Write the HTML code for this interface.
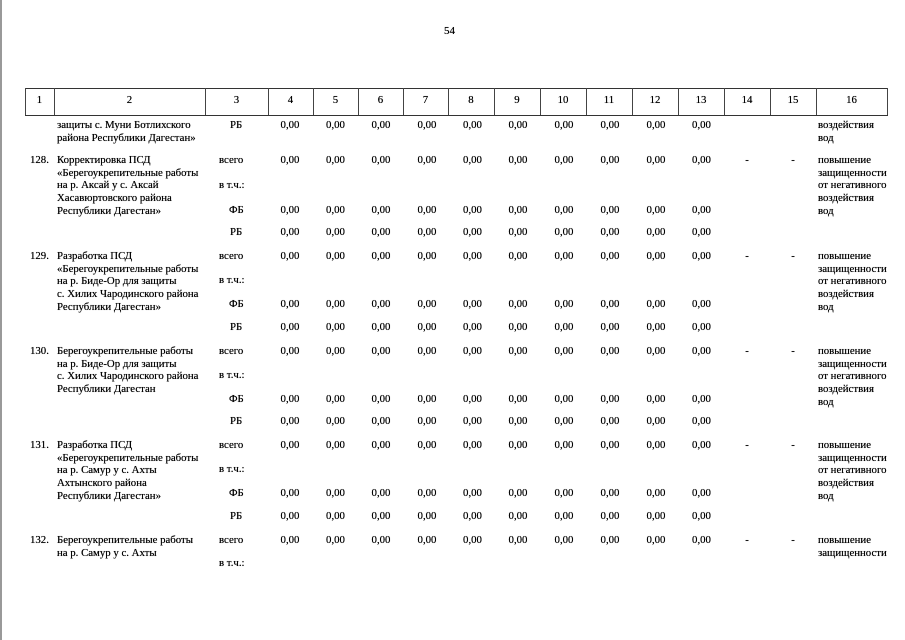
<!DOCTYPE html>
<html><head><meta charset="utf-8"><style>
body{margin:0;width:905px;height:640px;background:#fff;position:relative;overflow:hidden;font-family:"Liberation Serif",serif;font-size:10.8px;color:#000;text-shadow:0 0 0.4px #000}
.a{position:absolute;white-space:nowrap}
.t{position:absolute;line-height:12.7px;white-space:nowrap}
.v{position:absolute;left:267px;display:grid;grid-template-columns:46px 45px 46px 46px 45px 46px 46px 46px 46px 45px 46px 46px;text-align:center;line-height:13px}
.h{position:absolute;top:88px;height:26px;border-top:1.5px solid #333;border-bottom:1.5px solid #333;left:25px;width:863px}
.vl{position:absolute;top:88px;height:27px;width:1px;background:#444}
.hn{position:absolute;top:94px;text-align:center;font-size:10.8px}
</style></head><body>
<div class="a" style="left:444px;top:25px;font-size:11px">54</div>
<div class="h"></div>
<div class="vl" style="left:25px"></div><div class="vl" style="left:54px"></div><div class="vl" style="left:205px"></div><div class="vl" style="left:268px"></div><div class="vl" style="left:313px"></div><div class="vl" style="left:358px"></div><div class="vl" style="left:403px"></div><div class="vl" style="left:448px"></div><div class="vl" style="left:494px"></div><div class="vl" style="left:540px"></div><div class="vl" style="left:586px"></div><div class="vl" style="left:632px"></div><div class="vl" style="left:678px"></div><div class="vl" style="left:724px"></div><div class="vl" style="left:770px"></div><div class="vl" style="left:816px"></div><div class="vl" style="left:887px"></div>
<div class="hn" style="left:25px;width:29px">1</div><div class="hn" style="left:54px;width:151px">2</div><div class="hn" style="left:205px;width:63px">3</div><div class="hn" style="left:268px;width:45px">4</div><div class="hn" style="left:313px;width:45px">5</div><div class="hn" style="left:358px;width:45px">6</div><div class="hn" style="left:403px;width:45px">7</div><div class="hn" style="left:448px;width:46px">8</div><div class="hn" style="left:494px;width:46px">9</div><div class="hn" style="left:540px;width:46px">10</div><div class="hn" style="left:586px;width:46px">11</div><div class="hn" style="left:632px;width:46px">12</div><div class="hn" style="left:678px;width:46px">13</div><div class="hn" style="left:724px;width:46px">14</div><div class="hn" style="left:770px;width:46px">15</div><div class="hn" style="left:816px;width:71px">16</div>

<div class="t" style="left:57px;top:119px">защиты с. Муни Ботлихского<br>района Республики Дагестан»</div>
<div class="a" style="left:230px;top:119px">РБ</div>
<div class="v" style="top:119px"><span>0,00</span><span>0,00</span><span>0,00</span><span>0,00</span><span>0,00</span><span>0,00</span><span>0,00</span><span>0,00</span><span>0,00</span><span>0,00</span></div>
<div class="t" style="left:818px;top:119px">воздействия<br>вод</div>

<div class="a" style="left:30px;top:154px">128.</div>
<div class="t" style="left:57px;top:154px">Корректировка ПСД<br>«Берегоукрепительные работы<br>на р. Аксай у с. Аксай<br>Хасавюртовского района<br>Республики Дагестан»</div>
<div class="a" style="left:219px;top:154px">всего</div><div class="a" style="left:219px;top:179px">в т.ч.:</div>
<div class="a" style="left:229px;top:204px">ФБ</div><div class="a" style="left:230px;top:226px">РБ</div>
<div class="v" style="top:154px"><span>0,00</span><span>0,00</span><span>0,00</span><span>0,00</span><span>0,00</span><span>0,00</span><span>0,00</span><span>0,00</span><span>0,00</span><span>0,00</span><span>-</span><span>-</span></div>
<div class="v" style="top:204px"><span>0,00</span><span>0,00</span><span>0,00</span><span>0,00</span><span>0,00</span><span>0,00</span><span>0,00</span><span>0,00</span><span>0,00</span><span>0,00</span></div>
<div class="v" style="top:226px"><span>0,00</span><span>0,00</span><span>0,00</span><span>0,00</span><span>0,00</span><span>0,00</span><span>0,00</span><span>0,00</span><span>0,00</span><span>0,00</span></div>
<div class="t" style="left:818px;top:154px">повышение<br>защищенности<br>от негативного<br>воздействия<br>вод</div>

<div class="a" style="left:30px;top:250px">129.</div>
<div class="t" style="left:57px;top:250px">Разработка ПСД<br>«Берегоукрепительные работы<br>на р. Биде-Ор для защиты<br>с. Хилих Чародинского района<br>Республики Дагестан»</div>
<div class="a" style="left:219px;top:250px">всего</div><div class="a" style="left:219px;top:274px">в т.ч.:</div>
<div class="a" style="left:229px;top:298px">ФБ</div><div class="a" style="left:230px;top:321px">РБ</div>
<div class="v" style="top:250px"><span>0,00</span><span>0,00</span><span>0,00</span><span>0,00</span><span>0,00</span><span>0,00</span><span>0,00</span><span>0,00</span><span>0,00</span><span>0,00</span><span>-</span><span>-</span></div>
<div class="v" style="top:298px"><span>0,00</span><span>0,00</span><span>0,00</span><span>0,00</span><span>0,00</span><span>0,00</span><span>0,00</span><span>0,00</span><span>0,00</span><span>0,00</span></div>
<div class="v" style="top:321px"><span>0,00</span><span>0,00</span><span>0,00</span><span>0,00</span><span>0,00</span><span>0,00</span><span>0,00</span><span>0,00</span><span>0,00</span><span>0,00</span></div>
<div class="t" style="left:818px;top:250px">повышение<br>защищенности<br>от негативного<br>воздействия<br>вод</div>

<div class="a" style="left:30px;top:345px">130.</div>
<div class="t" style="left:57px;top:345px">Берегоукрепительные работы<br>на р. Биде-Ор для защиты<br>с. Хилих Чародинского района<br>Республики Дагестан</div>
<div class="a" style="left:219px;top:345px">всего</div><div class="a" style="left:219px;top:369px">в т.ч.:</div>
<div class="a" style="left:229px;top:393px">ФБ</div><div class="a" style="left:230px;top:415px">РБ</div>
<div class="v" style="top:345px"><span>0,00</span><span>0,00</span><span>0,00</span><span>0,00</span><span>0,00</span><span>0,00</span><span>0,00</span><span>0,00</span><span>0,00</span><span>0,00</span><span>-</span><span>-</span></div>
<div class="v" style="top:393px"><span>0,00</span><span>0,00</span><span>0,00</span><span>0,00</span><span>0,00</span><span>0,00</span><span>0,00</span><span>0,00</span><span>0,00</span><span>0,00</span></div>
<div class="v" style="top:415px"><span>0,00</span><span>0,00</span><span>0,00</span><span>0,00</span><span>0,00</span><span>0,00</span><span>0,00</span><span>0,00</span><span>0,00</span><span>0,00</span></div>
<div class="t" style="left:818px;top:345px">повышение<br>защищенности<br>от негативного<br>воздействия<br>вод</div>

<div class="a" style="left:30px;top:439px">131.</div>
<div class="t" style="left:57px;top:439px">Разработка ПСД<br>«Берегоукрепительные работы<br>на р. Самур у с. Ахты<br>Ахтынского района<br>Республики Дагестан»</div>
<div class="a" style="left:219px;top:439px">всего</div><div class="a" style="left:219px;top:463px">в т.ч.:</div>
<div class="a" style="left:229px;top:487px">ФБ</div><div class="a" style="left:230px;top:510px">РБ</div>
<div class="v" style="top:439px"><span>0,00</span><span>0,00</span><span>0,00</span><span>0,00</span><span>0,00</span><span>0,00</span><span>0,00</span><span>0,00</span><span>0,00</span><span>0,00</span><span>-</span><span>-</span></div>
<div class="v" style="top:487px"><span>0,00</span><span>0,00</span><span>0,00</span><span>0,00</span><span>0,00</span><span>0,00</span><span>0,00</span><span>0,00</span><span>0,00</span><span>0,00</span></div>
<div class="v" style="top:510px"><span>0,00</span><span>0,00</span><span>0,00</span><span>0,00</span><span>0,00</span><span>0,00</span><span>0,00</span><span>0,00</span><span>0,00</span><span>0,00</span></div>
<div class="t" style="left:818px;top:439px">повышение<br>защищенности<br>от негативного<br>воздействия<br>вод</div>

<div class="a" style="left:30px;top:534px">132.</div>
<div class="t" style="left:57px;top:534px">Берегоукрепительные работы<br>на р. Самур у с. Ахты</div>
<div class="a" style="left:219px;top:534px">всего</div><div class="a" style="left:219px;top:557px">в т.ч.:</div>
<div class="v" style="top:534px"><span>0,00</span><span>0,00</span><span>0,00</span><span>0,00</span><span>0,00</span><span>0,00</span><span>0,00</span><span>0,00</span><span>0,00</span><span>0,00</span><span>-</span><span>-</span></div>
<div class="t" style="left:818px;top:534px">повышение<br>защищенности</div>
<div class="a" style="left:0;top:0;width:2px;height:640px;background:#999"></div>
</body></html>
